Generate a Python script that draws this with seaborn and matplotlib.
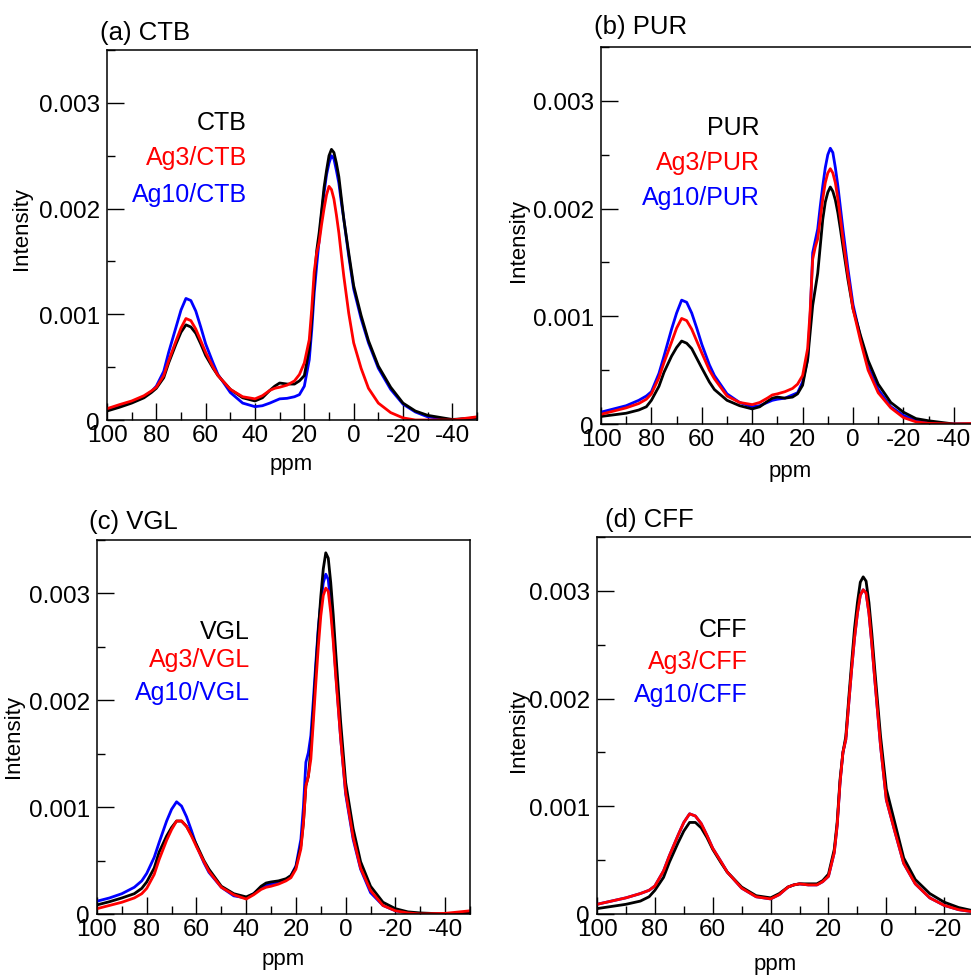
"""
13C NMR spectra of Ag-loaded biochars: four panels, three spectra each.
"""

import matplotlib
matplotlib.use("Agg")
import matplotlib.pyplot as plt
from matplotlib.ticker import MultipleLocator, FuncFormatter
import seaborn as sns
import pandas as pd
import numpy as np

sns.set_theme(style="ticks")
plt.rcParams["font.family"] = ["Liberation Sans", "DejaVu Sans"]
plt.rcParams["axes.unicode_minus"] = False
for key in ("text.color", "axes.labelcolor", "xtick.color", "ytick.color",
            "xtick.labelcolor", "ytick.labelcolor", "axes.edgecolor"):
    plt.rcParams[key] = "black"

W, H = 971, 978

# chemical shift grid (ppm) the curves were read at
PPM = [100, 95, 90, 85, 82, 80, 77, 75, 72, 70,
       68, 66, 64, 62, 60, 57, 55, 50, 45, 40,
       37, 34, 32, 30, 27, 24, 22, 20, 18, 17,
       16, 15, 14, 13, 12, 11, 10, 9, 8, 7,
       6, 5, 4, 2, 0, -3, -6, -10, -15, -20,
       -25, -30, -40, -50]

# intensities in units of 1e-4
CTB = [0.85, 1.2, 1.6, 2.1, 2.6, 3.0, 4.0, 5.4, 7.2, 8.3,
       9.0, 8.8, 8.2, 7.2, 6.1, 4.9, 4.2, 2.9, 2.1, 1.8,
       2.1, 2.8, 3.2, 3.5, 3.4, 3.4, 3.7, 4.2, 6.7, 9.5,
       13.0, 16.0, 17.7, 19.8, 22.0, 23.6, 25.0, 25.6, 25.3, 24.3,
       23.0, 21.0, 19.0, 15.8, 12.7, 9.9, 7.5, 5.1, 3.1, 1.6,
       0.85, 0.44, 0.05, 0.2]
AG3_CTB = [1.07, 1.45, 1.8, 2.3, 2.75, 3.1, 4.2, 5.6, 7.5, 8.7,
           9.6, 9.4, 8.6, 7.5, 6.4, 5.0, 4.2, 2.9, 2.2, 2.0,
           2.3, 2.8, 3.0, 3.1, 3.3, 3.7, 4.3, 5.4, 7.6, 10.5,
           14.0, 15.8, 16.8, 18.5, 20.0, 21.3, 22.1, 21.8, 20.9, 19.4,
           17.7, 15.6, 13.6, 10.1, 7.3, 4.9, 3.0, 1.6, 0.7, 0.2,
           0.0, 0.0, 0.0, 0.3]
AG10_CTB = [0.95, 1.3, 1.7, 2.2, 2.7, 3.2, 4.6, 6.4, 8.8, 10.4,
            11.5, 11.3, 10.3, 8.8, 7.2, 5.4, 4.3, 2.6, 1.6, 1.26,
            1.35, 1.6, 1.8, 2.0, 2.05, 2.2, 2.4, 3.2, 5.7, 8.5,
            12.0, 14.6, 17.0, 19.5, 21.5, 23.2, 24.3, 25.0, 24.7, 23.6,
            22.4, 20.6, 19.0, 15.5, 12.4, 9.6, 7.3, 4.9, 2.9, 1.5,
            0.76, 0.3, 0.0, 0.2]

PUR = [0.7, 0.85, 1.0, 1.3, 1.6, 2.2, 3.5, 4.8, 6.3, 7.1,
       7.7, 7.5, 7.0, 6.1, 5.2, 3.9, 3.2, 2.2, 1.7, 1.4,
       1.6, 2.1, 2.4, 2.5, 2.4, 2.5, 2.8, 3.6, 6.0, 8.5,
       11.0, 12.5, 14.0, 16.5, 19.0, 20.6, 21.5, 22.0, 21.6, 20.8,
       19.6, 18.1, 16.5, 13.4, 10.7, 8.2, 5.9, 3.7, 2.0, 1.1,
       0.5, 0.3, 0.0, 0.0]
AG3_PUR = [0.9, 1.2, 1.5, 1.9, 2.3, 2.8, 4.3, 5.7, 7.6, 8.9,
           9.8, 9.6, 8.8, 7.7, 6.6, 5.0, 4.2, 2.6, 2.0, 1.8,
           2.0, 2.4, 2.7, 2.8, 3.0, 3.3, 3.7, 4.5, 7.0, 10.5,
           15.3, 16.4, 17.2, 19.0, 20.9, 22.4, 23.3, 23.7, 23.3, 22.4,
           20.9, 19.1, 17.2, 13.8, 10.7, 7.7, 5.0, 2.9, 1.5, 0.6,
           0.2, 0.06, 0.0, 0.06]
AG10_PUR = [1.1, 1.4, 1.7, 2.2, 2.6, 3.0, 4.7, 6.3, 8.8, 10.3,
            11.5, 11.3, 10.3, 8.9, 7.4, 5.5, 4.5, 2.8, 2.0, 1.6,
            1.7, 2.0, 2.2, 2.3, 2.4, 2.7, 2.9, 3.9, 6.0, 10.0,
            15.9, 17.0, 18.1, 20.2, 22.1, 23.8, 25.0, 25.6, 25.2, 23.8,
            22.1, 20.1, 18.1, 14.4, 11.1, 8.0, 5.3, 3.2, 1.6, 0.8,
            0.3, 0.1, 0.0, 0.0]

VGL = [0.85, 1.15, 1.5, 1.9, 2.4, 3.0, 4.3, 5.8, 7.3, 8.1,
       8.7, 8.7, 8.2, 7.4, 6.5, 5.0, 4.2, 2.6, 1.9, 1.6,
       1.9, 2.6, 2.9, 3.0, 3.1, 3.3, 3.6, 4.4, 6.4, 8.5,
       12.0, 12.9, 15.4, 19.0, 22.9, 26.5, 29.7, 32.3, 33.8, 33.3,
       31.0, 28.0, 24.5, 17.9, 12.3, 8.0, 4.9, 2.6, 1.1, 0.5,
       0.2, 0.1, 0.0, 0.15]
AG3_VGL = [0.5, 0.8, 1.1, 1.5, 1.9, 2.4, 3.7, 5.1, 6.9, 7.9,
           8.7, 8.7, 8.2, 7.3, 6.3, 4.9, 4.0, 2.5, 1.8, 1.4,
           1.8, 2.3, 2.5, 2.6, 2.8, 3.1, 3.4, 4.2, 6.1, 8.5,
           12.0, 12.9, 14.5, 18.0, 21.6, 25.0, 27.9, 29.8, 30.5, 30.2,
           28.2, 25.5, 22.3, 16.4, 11.4, 7.2, 4.3, 2.2, 0.8, 0.3,
           0.1, 0.0, 0.06, 0.3]
AG10_VGL = [1.2, 1.5, 1.9, 2.5, 3.1, 3.8, 5.3, 6.7, 8.7, 9.8,
            10.5, 10.1, 9.1, 7.8, 6.4, 4.8, 3.9, 2.5, 1.7, 1.5,
            1.9, 2.5, 2.7, 2.8, 2.9, 3.2, 3.6, 4.5, 7.0, 10.0,
            14.2, 15.1, 16.7, 20.0, 23.5, 26.8, 29.1, 31.0, 31.8, 31.3,
            29.0, 26.0, 22.6, 16.4, 11.2, 7.0, 4.2, 2.0, 0.8, 0.3,
            0.1, 0.0, 0.0, 0.1]

CFF = [0.5, 0.7, 0.9, 1.2, 1.6, 2.2, 3.4, 4.8, 6.6, 7.7,
       8.5, 8.5, 8.0, 7.1, 6.0, 4.7, 3.9, 2.5, 1.7, 1.5,
       1.9, 2.5, 2.7, 2.8, 2.8, 2.8, 3.1, 3.7, 6.0, 8.5,
       12.5, 15.0, 16.5, 20.0, 23.3, 26.5, 28.9, 30.8, 31.3, 30.9,
       28.9, 26.0, 22.7, 16.5, 11.6, 8.4, 5.2, 3.2, 1.9, 1.1,
       0.6, 0.3, 0.1, 0.0]
AG3_CFF = [0.9, 1.2, 1.5, 1.9, 2.2, 2.6, 4.0, 5.4, 7.3, 8.5,
           9.3, 9.1, 8.4, 7.3, 6.1, 4.8, 3.9, 2.4, 1.6, 1.4,
           1.8, 2.5, 2.7, 2.8, 2.7, 2.7, 3.0, 3.5, 5.7, 8.2,
           12.2, 15.0, 16.2, 19.5, 22.7, 25.6, 27.9, 29.6, 30.1, 29.8,
           27.9, 25.0, 21.8, 15.6, 10.6, 7.6, 4.7, 2.8, 1.5, 0.8,
           0.4, 0.2, 0.03, 0.0]
AG10_CFF = [0.9, 1.2, 1.5, 1.9, 2.2, 2.6, 4.0, 5.4, 7.3, 8.5,
            9.3, 9.1, 8.4, 7.3, 6.1, 4.8, 3.9, 2.4, 1.6, 1.4,
            1.8, 2.5, 2.7, 2.8, 2.7, 2.7, 3.0, 3.5, 5.7, 8.2,
            12.2, 15.0, 16.2, 19.5, 22.7, 25.6, 27.9, 29.6, 30.1, 29.8,
            27.9, 25.0, 21.8, 15.6, 10.6, 7.6, 4.7, 2.8, 1.5, 0.8,
            0.4, 0.2, 0.03, 0.0]

# panel: (title, base name, [bare, Ag3, Ag10])
PANELS = [
    ("(a) CTB", "CTB", [CTB, AG3_CTB, AG10_CTB]),
    ("(b) PUR", "PUR", [PUR, AG3_PUR, AG10_PUR]),
    ("(c) VGL", "VGL", [VGL, AG3_VGL, AG10_VGL]),
    ("(d) CFF", "CFF", [CFF, AG3_CFF, AG10_CFF]),
]

# layout in pixels: axes box (left, top, width, height), title, ylabel, xlabel, legend
BOXES = [(107, 51, 370, 370), (601, 48, 378, 377),
         (97, 541, 373, 374), (597, 538, 434, 377)]
TITLE_XY = [(100, 33), (594, 27), (89, 522), (605, 520)]
YLAB_XY = [(22, 229), (518, 241), (13, 736), (518, 731)]
XLAB_XY = [(291, 465), (790, 472), (283, 960), (775, 965)]
LEG_X = [0.378, 0.42, 0.41, 0.347]
LEG_Y = [(0.805, 0.711, 0.611), (0.788, 0.695, 0.602),
         (0.757, 0.681, 0.593), (0.756, 0.672, 0.584)]

COLORS = ["black", "#ff0000", "#0000ff"]


def fx(px):
    return px / W


def fy(py):
    return 1 - py / H


def y_fmt(v, _):
    return "0" if abs(v) < 1e-9 else f"{v:.3f}"


fig = plt.figure(figsize=(W / 100, H / 100), dpi=100)

for i, (title, base, curves) in enumerate(PANELS):
    left, top, w, h = BOXES[i]
    ax = fig.add_axes([fx(left), fy(top + h), w / W, h / H])

    names = [base, f"Ag3/{base}", f"Ag10/{base}"]
    frames = []
    for name, vals in zip(names, curves):
        frames.append(pd.DataFrame({"ppm": PPM,
                                    "intensity": np.array(vals) * 1e-4,
                                    "sample": name}))
    df = pd.concat(frames, ignore_index=True)

    # draw blue first, then black, red on top
    for j in (2, 0, 1):
        sub = df[df["sample"] == names[j]]
        sns.lineplot(data=sub, x="ppm", y="intensity", color=COLORS[j],
                     linewidth=2.0, sort=False, estimator=None, ax=ax,
                     solid_joinstyle="round", solid_capstyle="round")

    ax.set_xlim(100, -50)
    ax.set_ylim(0, 0.0035)
    ax.set_xlabel("")
    ax.set_ylabel("")
    ax.xaxis.set_major_locator(MultipleLocator(20))
    ax.xaxis.set_minor_locator(MultipleLocator(10))
    ax.yaxis.set_major_locator(MultipleLocator(0.001))
    ax.yaxis.set_minor_locator(MultipleLocator(0.0005))
    ax.yaxis.set_major_formatter(FuncFormatter(y_fmt))
    ax.tick_params(which="both", direction="in", top=False, right=False,
                   width=1.0, colors="black")
    ax.tick_params(which="major", length=12, labelsize=17.5)
    ax.tick_params(axis="x", which="major", pad=3)
    ax.tick_params(axis="y", which="major", pad=5)
    ax.tick_params(which="minor", length=6)
    for sp in ax.spines.values():
        sp.set_visible(True)
        sp.set_linewidth(1.1)
        sp.set_color("black")

    for j, name in enumerate(names):
        ax.text(LEG_X[i], LEG_Y[i][j], name, transform=ax.transAxes,
                ha="right", va="center", fontsize=18, color=COLORS[j])

    fig.text(fx(TITLE_XY[i][0]), fy(TITLE_XY[i][1]), title,
             ha="left", va="center", fontsize=18.5)
    fig.text(fx(YLAB_XY[i][0]), fy(YLAB_XY[i][1]), "Intensity",
             ha="center", va="center", rotation=90, fontsize=16)
    fig.text(fx(XLAB_XY[i][0]), fy(XLAB_XY[i][1]), "ppm",
             ha="center", va="center", fontsize=16)

fig.savefig("out.png", dpi=100)
